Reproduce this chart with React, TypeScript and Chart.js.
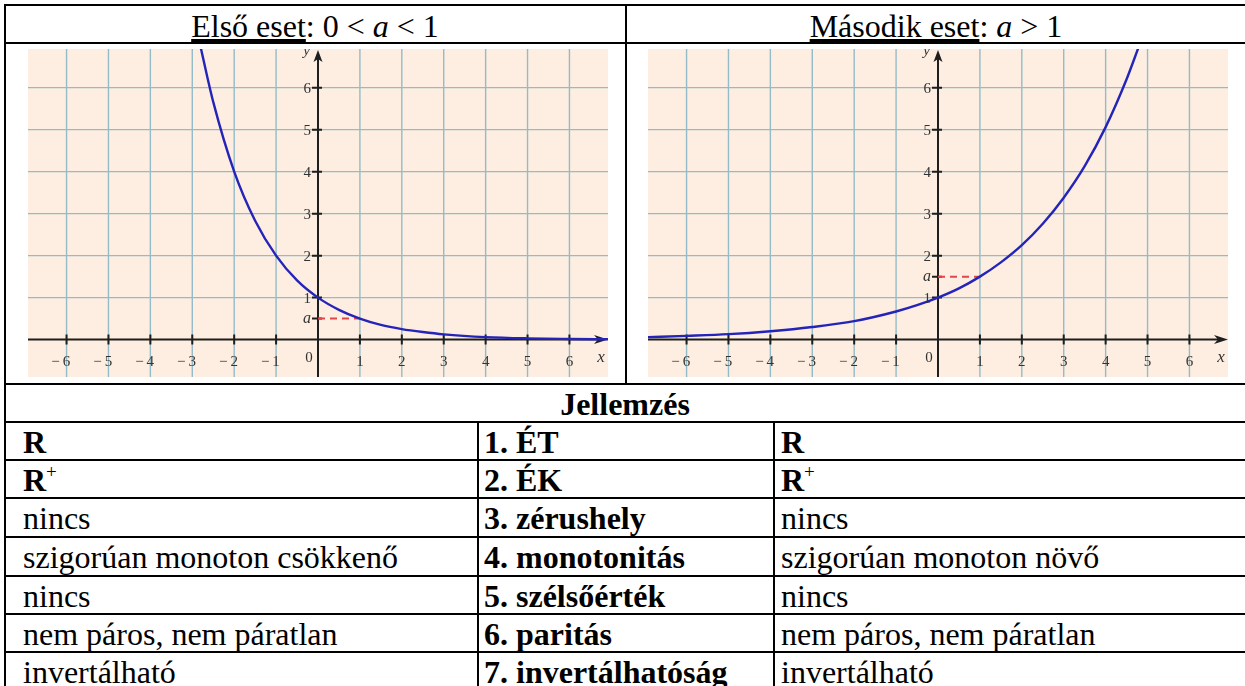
import React, { useEffect, useRef } from "react";
import { Chart, registerables } from "chart.js";

Chart.register(...registerables);

const SERIF = '"Liberation Serif", "Times New Roman", Times, serif';
const PEACH = "#fdeee1";
const GRID = "#93bcc8";
const AXIS = "#1e1e1e";
const CURVE = "#2424b8";
const DASH = "#e0474a";
const LABEL = "#333333";

// shared viewing window of both graphs
const xMin = -6.92;
const xMax = 6.92;
const yMin = -0.89;
const yMax = 6.92;
const xTickValues = [-6, -5, -4, -3, -2, -1, 1, 2, 3, 4, 5, 6];
const yTickValues = [1, 2, 3, 4, 5, 6];

// first case: 0 < a < 1
const decayBase = 0.5;
const decayX = [-2.8, -2.5, -2, -1.5, -1, -0.5, 0, 0.5, 1, 1.5, 2, 2.5, 3, 4, 5, 6, 6.92];
const decayY = [6.96, 5.66, 4, 2.83, 2, 1.41, 1, 0.71, 0.5, 0.35, 0.25, 0.18, 0.125, 0.06, 0.03, 0.016, 0.008];

// second case: a > 1
const growthBase = 1.5;
const growthX = [-6.92, -6, -5, -4, -3, -2, -1, -0.5, 0, 0.5, 1, 1.5, 2, 2.5, 3, 3.5, 4, 4.5, 4.8];
const growthY = [0.06, 0.09, 0.13, 0.2, 0.3, 0.44, 0.67, 0.82, 1, 1.22, 1.5, 1.84, 2.25, 2.76, 3.38, 4.13, 5.06, 6.2, 7.0];

// property table
const propertyNames = [
  "1. ÉT",
  "2. ÉK",
  "3. zérushely",
  "4. monotonitás",
  "5. szélsőérték",
  "6. paritás",
  "7. invertálhatóság",
];
const firstCaseValues = [
  "R",
  "R+",
  "nincs",
  "szigorúan monoton csökkenő",
  "nincs",
  "nem páros, nem páratlan",
  "invertálható",
];
const secondCaseValues = [
  "R",
  "R+",
  "nincs",
  "szigorúan monoton növő",
  "nincs",
  "nem páros, nem páratlan",
  "invertálható",
];

function makeAxesPlugin(base: number) {
  return {
    id: "originAxes",
    beforeDatasetsDraw(chart: any) {
      const { ctx, chartArea } = chart;
      const sx = chart.scales.x;
      const sy = chart.scales.y;
      const { left, right, top, bottom } = chartArea;
      ctx.save();
      ctx.fillStyle = PEACH;
      ctx.fillRect(0, 0, chart.width, chart.height);

      // grid
      ctx.strokeStyle = GRID;
      ctx.lineWidth = 1.4;
      ctx.beginPath();
      for (const v of xTickValues) {
        const px = sx.getPixelForValue(v);
        ctx.moveTo(px, top);
        ctx.lineTo(px, bottom);
      }
      for (const v of yTickValues) {
        const py = sy.getPixelForValue(v);
        ctx.moveTo(left, py);
        ctx.lineTo(right, py);
      }
      ctx.stroke();

      // axes through the origin
      const x0 = sx.getPixelForValue(0);
      const y0 = sy.getPixelForValue(0);
      ctx.strokeStyle = AXIS;
      ctx.fillStyle = AXIS;
      ctx.lineWidth = 2;
      ctx.beginPath();
      ctx.moveTo(left, y0);
      ctx.lineTo(right - 8, y0);
      ctx.moveTo(x0, bottom);
      ctx.lineTo(x0, top + 6);
      for (const v of xTickValues) {
        const px = sx.getPixelForValue(v);
        ctx.moveTo(px, y0 - 5);
        ctx.lineTo(px, y0 + 5);
      }
      for (const v of [...yTickValues, base]) {
        const py = sy.getPixelForValue(v);
        ctx.moveTo(x0 - 6, py);
        ctx.lineTo(x0 + 4, py);
      }
      ctx.stroke();

      // arrow heads
      ctx.beginPath();
      ctx.moveTo(right, y0);
      ctx.lineTo(right - 14, y0 - 4.5);
      ctx.lineTo(right - 10, y0);
      ctx.lineTo(right - 14, y0 + 4.5);
      ctx.closePath();
      ctx.moveTo(x0, top + 1);
      ctx.lineTo(x0 - 4.5, top + 13);
      ctx.lineTo(x0, top + 10);
      ctx.lineTo(x0 + 4.5, top + 13);
      ctx.closePath();
      ctx.fill();
      ctx.restore();
    },
    afterDatasetsDraw(chart: any) {
      const { ctx, chartArea } = chart;
      const sx = chart.scales.x;
      const sy = chart.scales.y;
      const { right, top } = chartArea;
      const x0 = sx.getPixelForValue(0);
      const y0 = sy.getPixelForValue(0);
      ctx.save();
      ctx.fillStyle = LABEL;
      ctx.font = `15px ${SERIF}`;
      ctx.textBaseline = "alphabetic";

      for (const v of xTickValues) {
        const px = sx.getPixelForValue(v);
        const digit = String(Math.abs(v));
        const dw = ctx.measureText(digit).width;
        ctx.textAlign = "right";
        ctx.fillText(v < 0 ? "\u2212\u2009" + digit : digit, px + dw / 2, y0 + 26);
      }
      ctx.textAlign = "center";
      ctx.fillText("0", x0 - 9, y0 + 22);

      ctx.textAlign = "right";
      ctx.textBaseline = "middle";
      for (const v of yTickValues) {
        ctx.fillText(String(v), x0 - 7, sy.getPixelForValue(v) + 1);
      }
      ctx.font = `italic 16px ${SERIF}`;
      ctx.fillText("a", x0 - 7, sy.getPixelForValue(base));

      ctx.textBaseline = "alphabetic";
      ctx.font = `italic 15px ${SERIF}`;
      ctx.fillText("y", x0 - 8, top + 6);
      ctx.font = `italic 17px ${SERIF}`;
      ctx.textAlign = "center";
      ctx.fillText("x", right - 7, y0 + 22);
      ctx.restore();
    },
  };
}

type GraphProps = { base: number; xs: number[]; ys: number[]; left: number; top: number };

function ExpGraph({ base, xs, ys, left, top }: GraphProps) {
  const ref = useRef<HTMLCanvasElement>(null);
  useEffect(() => {
    const chart = new Chart(ref.current as HTMLCanvasElement, {
      type: "scatter",
      data: {
        datasets: [
          {
            data: xs.map((x, i) => ({ x, y: ys[i] })),
            showLine: true,
            borderColor: CURVE,
            borderWidth: 2.4,
            pointRadius: 0,
            cubicInterpolationMode: "monotone",
          } as any,
          {
            data: [
              { x: 0, y: base },
              { x: 1, y: base },
            ],
            showLine: true,
            borderColor: DASH,
            borderWidth: 2,
            borderDash: [7, 5],
            pointRadius: 0,
          },
        ],
      },
      options: {
        responsive: false,
        animation: false,
        events: [],
        layout: { padding: 0 },
        plugins: { legend: { display: false }, tooltip: { enabled: false } },
        scales: {
          x: { type: "linear", min: xMin, max: xMax, display: false },
          y: { type: "linear", min: yMin, max: yMax, display: false },
        },
      },
      plugins: [makeAxesPlugin(base)],
    });
    return () => chart.destroy();
  }, [base, xs, ys]);
  return (
    <canvas
      ref={ref}
      width={580}
      height={328}
      style={{ position: "absolute", left, top, width: 580, height: 328 }}
    />
  );
}

const FONT_PX = 32;
const BASE_OFFSET = 26.8;

function Txt({
  x,
  baseline,
  bold,
  center,
  children,
}: {
  x: number;
  baseline: number;
  bold?: boolean;
  center?: boolean;
  children: React.ReactNode;
}) {
  return (
    <div
      style={{
        position: "absolute",
        left: x,
        top: baseline - BASE_OFFSET,
        transform: center ? "translateX(-50%)" : undefined,
        fontFamily: SERIF,
        fontSize: FONT_PX,
        lineHeight: `${FONT_PX}px`,
        fontWeight: bold ? "bold" : "normal",
        whiteSpace: "nowrap",
        color: "#000",
      }}
    >
      {children}
    </div>
  );
}

function CellValue({ value }: { value: string }) {
  if (value === "R") return <b>R</b>;
  if (value === "R+")
    return (
      <b>
        R
        <span style={{ position: "relative", top: -13, fontSize: 19, fontWeight: "normal" }}>+</span>
      </b>
    );
  return <>{value}</>;
}

function HLine({ y, x1, x2 }: { y: number; x1: number; x2: number }) {
  return <div style={{ position: "absolute", left: x1, top: y, width: x2 - x1, height: 2, background: "#000" }} />;
}
function VLine({ x, y1, y2 }: { x: number; y1: number; y2: number }) {
  return <div style={{ position: "absolute", left: x, top: y1, width: 2, height: y2 - y1, background: "#000" }} />;
}

const rowLines = [421, 459, 497, 536, 575, 613, 651];

export default function App() {
  return (
    <div
      style={{
        position: "absolute",
        left: 0,
        top: 0,
        width: 1245,
        height: 686,
        overflow: "hidden",
        background: "#fff",
      }}
    >
      {/* table frame */}
      <HLine y={4} x1={4} x2={1245} />
      <HLine y={42} x1={4} x2={1245} />
      <HLine y={383} x1={4} x2={1245} />
      {rowLines.map((y) => (
        <HLine key={y} y={y} x1={4} x2={1245} />
      ))}
      <VLine x={4} y1={4} y2={686} />
      <VLine x={625} y1={4} y2={385} />
      <VLine x={477} y1={421} y2={686} />
      <VLine x={773} y1={421} y2={686} />

      {/* headers */}
      <Txt x={315} baseline={37} center>
        <span style={{ textDecoration: "underline" }}>Első eset</span>: 0 &lt; <i>a</i> &lt; 1
      </Txt>
      <Txt x={936} baseline={37} center>
        <span style={{ textDecoration: "underline" }}>Második eset</span>: <i>a</i> &gt; 1
      </Txt>

      {/* graphs */}
      <ExpGraph base={decayBase} xs={decayX} ys={decayY} left={28} top={49} />
      <ExpGraph base={growthBase} xs={growthX} ys={growthY} left={648} top={49} />

      {/* properties */}
      <Txt x={625} baseline={415} bold center>
        Jellemzés
      </Txt>
      {propertyNames.map((name, i) => {
        const baseline = rowLines[i] + 32;
        return (
          <React.Fragment key={name}>
            <Txt x={23} baseline={baseline}>
              <CellValue value={firstCaseValues[i]} />
            </Txt>
            <Txt x={484} baseline={baseline} bold>
              {name}
            </Txt>
            <Txt x={781} baseline={baseline}>
              <CellValue value={secondCaseValues[i]} />
            </Txt>
          </React.Fragment>
        );
      })}
    </div>
  );
}
